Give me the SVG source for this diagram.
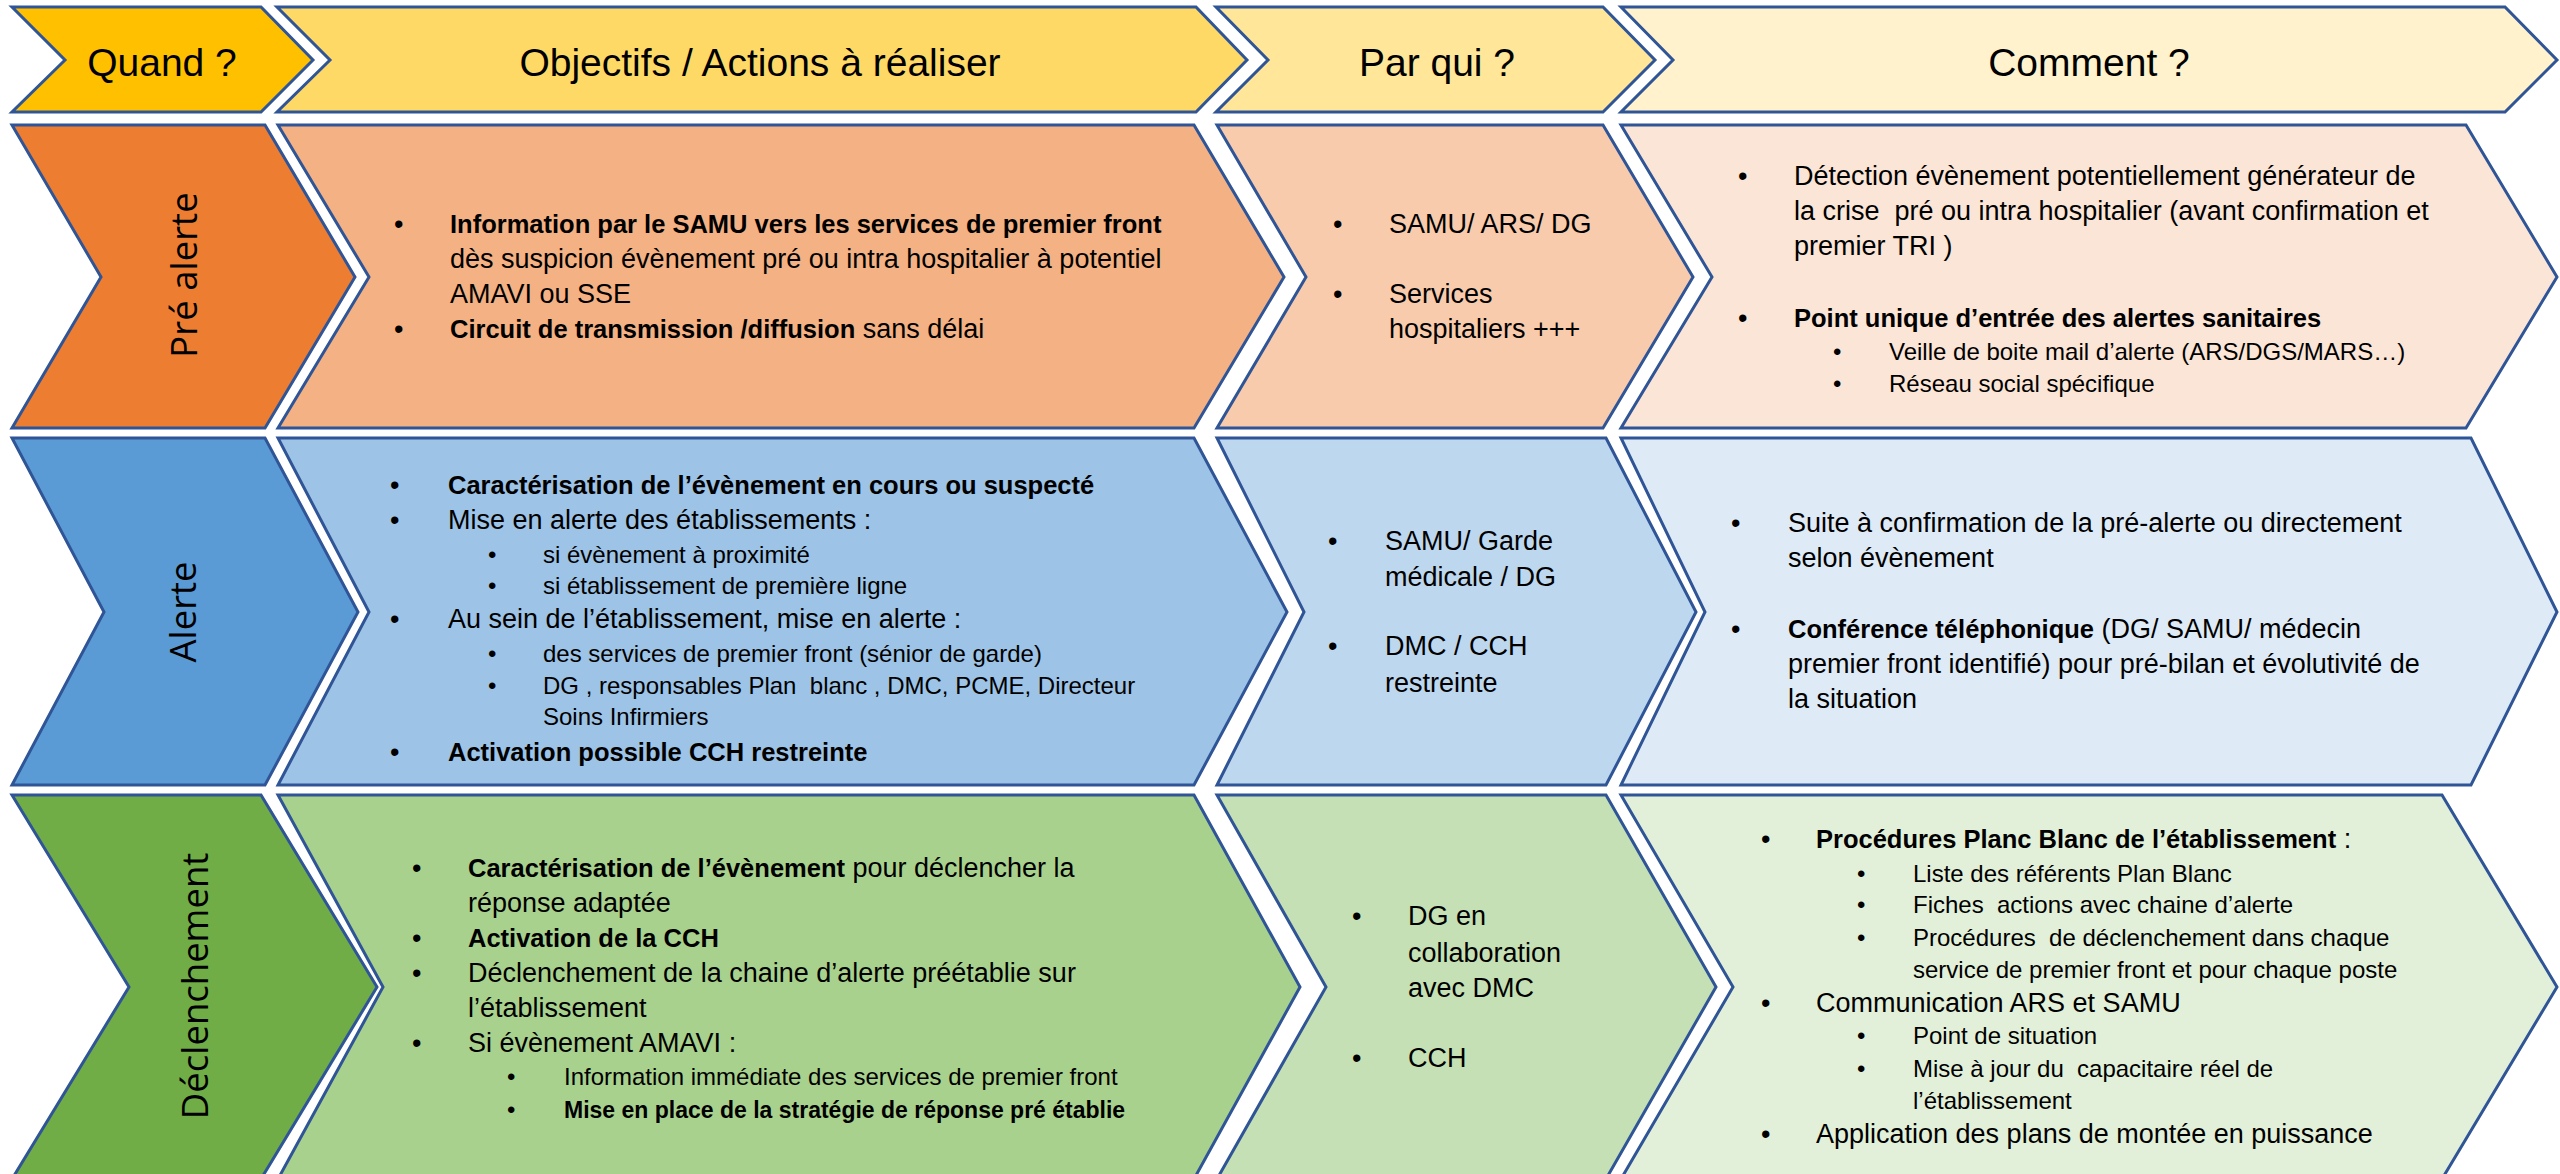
<svg xmlns="http://www.w3.org/2000/svg" width="2560" height="1174" viewBox="0 0 2560 1174">
<style>
.sh{stroke:#2F5597;stroke-width:3;stroke-linejoin:miter}
text{font-family:"Liberation Sans",Arial,sans-serif;fill:#000;white-space:pre}
.hd{font-size:39px;text-anchor:middle}
.lbl{font-family:"Open Sans","Noto Sans",sans-serif;font-size:36.5px;text-anchor:middle;dominant-baseline:central}
.t{font-size:27px}
.s{font-size:24px}
.b{font-weight:bold;font-size:25.5px}
.sb{font-weight:bold;font-size:23px}
</style>
<rect width="2560" height="1174" fill="#FFFFFF"/>

<!-- Header row -->
<g id="hdr-quand">
<path class="sh" fill="#FFC000" d="M12,7 L261,7 L313,60 L261,112 L12,112 L65,60 Z"/>
<text class="hd" x="162" y="76">Quand ?</text>
</g>
<g id="hdr-objectifs">
<path class="sh" fill="#FFD966" d="M277,7 L1196,7 L1247,60 L1196,112 L277,112 L330,60 Z"/>
<text class="hd" x="760" y="76">Objectifs / Actions à réaliser</text>
</g>
<g id="hdr-parqui">
<path class="sh" fill="#FFE699" d="M1216,7 L1603,7 L1655,60 L1603,112 L1216,112 L1268,60 Z"/>
<text class="hd" x="1437" y="76">Par qui ?</text>
</g>
<g id="hdr-comment">
<path class="sh" fill="#FFF2CC" d="M1621,7 L2505,7 L2557,60 L2505,112 L1621,112 L1673,60 Z"/>
<text class="hd" x="2089" y="76">Comment ?</text>
</g>

<!-- Row 1 : Pré alerte -->
<g id="pre-alerte">
<path class="sh" fill="#ED7D31" d="M12,125 L265,125 L355,277 L265,428 L12,428 L101,277 Z"/>
<text class="lbl" transform="translate(183,275) rotate(-90)">Pré alerte</text>
</g>
<g id="pre-alerte-objectifs">
<path class="sh" fill="#F4B183" d="M278,125 L1194,125 L1284,277 L1194,428 L278,428 L369,277 Z"/>
<text class="t" x="394" y="233">•</text>
<text class="b" x="450" y="233">Information par le SAMU vers les services de premier front</text>
<text class="t" x="450" y="268">dès suspicion évènement pré ou intra hospitalier à potentiel</text>
<text class="t" x="450" y="303">AMAVI ou SSE</text>
<text class="t" x="394" y="338">•</text>
<text class="t" x="450" y="338"><tspan class="b">Circuit de transmission /diffusion</tspan> sans délai</text>
</g>
<g id="pre-alerte-parqui">
<path class="sh" fill="#F8CBAD" d="M1217,125 L1603,125 L1693,277 L1603,428 L1217,428 L1306,277 Z"/>
<text class="t" x="1333" y="233">•</text>
<text class="t" x="1389" y="233">SAMU/ ARS/ DG</text>
<text class="t" x="1333" y="303">•</text>
<text class="t" x="1389" y="303">Services</text>
<text class="t" x="1389" y="338">hospitaliers +++</text>
</g>
<g id="pre-alerte-comment">
<path class="sh" fill="#FBE5D6" d="M1621,125 L2466,125 L2557,277 L2466,428 L1621,428 L1712,277 Z"/>
<text class="t" x="1738" y="185">•</text>
<text class="t" x="1794" y="185">Détection évènement potentiellement générateur de</text>
<text class="t" x="1794" y="220" xml:space="preserve">la crise  pré ou intra hospitalier (avant confirmation et</text>
<text class="t" x="1794" y="255">premier TRI )</text>
<text class="t" x="1738" y="327">•</text>
<text class="b" x="1794" y="327">Point unique d’entrée des alertes sanitaires</text>
<text class="s" x="1833" y="360">•</text>
<text class="s" x="1889" y="360">Veille de boite mail d’alerte (ARS/DGS/MARS…)</text>
<text class="s" x="1833" y="392">•</text>
<text class="s" x="1889" y="392">Réseau social spécifique</text>
</g>

<!-- Row 2 : Alerte -->
<g id="alerte">
<path class="sh" fill="#5B9BD5" d="M12,438 L265,438 L358,612 L265,785 L12,785 L104,612 Z"/>
<text class="lbl" transform="translate(182,612) rotate(-90)">Alerte</text>
</g>
<g id="alerte-objectifs">
<path class="sh" fill="#9DC3E6" d="M278,438 L1194,438 L1287,612 L1194,785 L278,785 L369,612 Z"/>
<text class="t" x="390" y="494">•</text>
<text class="b" x="448" y="494">Caractérisation de l’évènement en cours ou suspecté</text>
<text class="t" x="390" y="529">•</text>
<text class="t" x="448" y="529">Mise en alerte des établissements :</text>
<text class="s" x="488" y="563">•</text>
<text class="s" x="543" y="563">si évènement à proximité</text>
<text class="s" x="488" y="594">•</text>
<text class="s" x="543" y="594">si établissement de première ligne</text>
<text class="t" x="390" y="628">•</text>
<text class="t" x="448" y="628">Au sein de l’établissement, mise en alerte :</text>
<text class="s" x="488" y="662">•</text>
<text class="s" x="543" y="662">des services de premier front (sénior de garde)</text>
<text class="s" x="488" y="694">•</text>
<text class="s" x="543" y="694" xml:space="preserve">DG , responsables Plan  blanc , DMC, PCME, Directeur</text>
<text class="s" x="543" y="725">Soins Infirmiers</text>
<text class="t" x="390" y="761">•</text>
<text class="b" x="448" y="761">Activation possible CCH restreinte</text>
</g>
<g id="alerte-parqui">
<path class="sh" fill="#BDD7EE" d="M1217,438 L1606,438 L1696,612 L1606,785 L1217,785 L1304,612 Z"/>
<text class="t" x="1328" y="550">•</text>
<text class="t" x="1385" y="550">SAMU/ Garde</text>
<text class="t" x="1385" y="586">médicale / DG</text>
<text class="t" x="1328" y="655">•</text>
<text class="t" x="1385" y="655">DMC / CCH</text>
<text class="t" x="1385" y="692">restreinte</text>
</g>
<g id="alerte-comment">
<path class="sh" fill="#DEEBF7" d="M1621,438 L2471,438 L2557,612 L2471,785 L1621,785 L1705,612 Z"/>
<text class="t" x="1731" y="532">•</text>
<text class="t" x="1788" y="532">Suite à confirmation de la pré-alerte ou directement</text>
<text class="t" x="1788" y="567">selon évènement</text>
<text class="t" x="1731" y="638">•</text>
<text class="t" x="1788" y="638"><tspan class="b">Conférence téléphonique</tspan> (DG/ SAMU/ médecin</text>
<text class="t" x="1788" y="673">premier front identifié) pour pré-bilan et évolutivité de</text>
<text class="t" x="1788" y="708">la situation</text>
</g>

<!-- Row 3 : Déclenchement -->
<g id="declenchement">
<path class="sh" fill="#70AD47" d="M12,795 L261,795 L377,987 L261,1179 L12,1179 L129,987 Z"/>
<text class="lbl" transform="translate(194,986) rotate(-90)">Déclenchement</text>
</g>
<g id="declenchement-objectifs">
<path class="sh" fill="#A9D18E" d="M278,795 L1194,795 L1300,987 L1194,1179 L278,1179 L383,987 Z"/>
<text class="t" x="412" y="877">•</text>
<text class="t" x="468" y="877"><tspan class="b">Caractérisation de l’évènement</tspan> pour déclencher la</text>
<text class="t" x="468" y="912">réponse adaptée</text>
<text class="t" x="412" y="947">•</text>
<text class="b" x="468" y="947">Activation de la CCH</text>
<text class="t" x="412" y="982">•</text>
<text class="t" x="468" y="982">Déclenchement de la chaine d’alerte préétablie sur</text>
<text class="t" x="468" y="1017">l’établissement</text>
<text class="t" x="412" y="1052">•</text>
<text class="t" x="468" y="1052">Si évènement AMAVI :</text>
<text class="s" x="507" y="1085">•</text>
<text class="s" x="564" y="1085">Information immédiate des services de premier front</text>
<text class="s" x="507" y="1118">•</text>
<text class="sb" x="564" y="1118">Mise en place de la stratégie de réponse pré établie</text>
</g>
<g id="declenchement-parqui">
<path class="sh" fill="#C5E0B4" d="M1217,795 L1606,795 L1716,987 L1606,1179 L1217,1179 L1326,987 Z"/>
<text class="t" x="1352" y="925">•</text>
<text class="t" x="1408" y="925">DG en</text>
<text class="t" x="1408" y="962">collaboration</text>
<text class="t" x="1408" y="997">avec DMC</text>
<text class="t" x="1352" y="1067">•</text>
<text class="t" x="1408" y="1067">CCH</text>
</g>
<g id="declenchement-comment">
<path class="sh" fill="#E2F0D9" d="M1621,795 L2442,795 L2557,987 L2442,1179 L1621,1179 L1733,987 Z"/>
<text class="t" x="1761" y="848">•</text>
<text class="t" x="1816" y="848"><tspan class="b">Procédures Planc Blanc de l’établissement</tspan> :</text>
<text class="s" x="1857" y="882">•</text>
<text class="s" x="1913" y="882">Liste des référents Plan Blanc</text>
<text class="s" x="1857" y="913">•</text>
<text class="s" x="1913" y="913" xml:space="preserve">Fiches  actions avec chaine d’alerte</text>
<text class="s" x="1857" y="946">•</text>
<text class="s" x="1913" y="946" xml:space="preserve">Procédures  de déclenchement dans chaque</text>
<text class="s" x="1913" y="978">service de premier front et pour chaque poste</text>
<text class="t" x="1761" y="1012">•</text>
<text class="t" x="1816" y="1012">Communication ARS et SAMU</text>
<text class="s" x="1857" y="1044">•</text>
<text class="s" x="1913" y="1044">Point de situation</text>
<text class="s" x="1857" y="1077">•</text>
<text class="s" x="1913" y="1077" xml:space="preserve">Mise à jour du  capacitaire réel de</text>
<text class="s" x="1913" y="1109">l’établissement</text>
<text class="t" x="1761" y="1143">•</text>
<text class="t" x="1816" y="1143">Application des plans de montée en puissance</text>
</g>
</svg>
